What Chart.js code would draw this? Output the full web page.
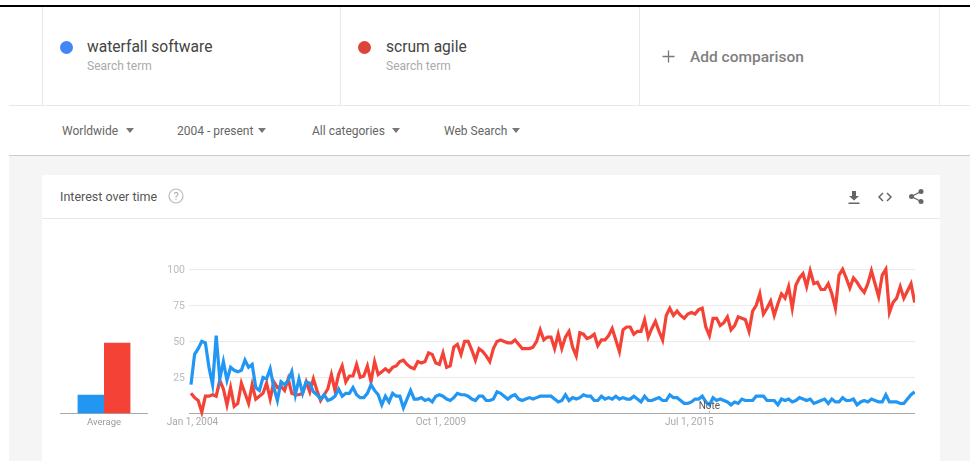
<!DOCTYPE html>
<html>
<head>
<meta charset="utf-8">
<title>Interest over time</title>
<script src="https://cdn.jsdelivr.net/npm/chart.js@4"></script>
<style>
  html, body { margin: 0; padding: 0; background: #fff; }
  body { width: 970px; height: 461px; overflow: hidden; position: relative; font-family: Roboto, sans-serif; filter: blur(0.35px); }
  .abs { position: absolute; white-space: nowrap; }
  .box { position: absolute; }
  .dot { position: absolute; width: 13px; height: 13px; border-radius: 50%; }
  .term { font-size: 15.6px; color: #444; line-height: 18px; top: 38px; }
  .sub { font-size: 12px; color: #aaa; line-height: 14px; top: 59px; }
  .filter { font-size: 12px; color: #666; line-height: 16px; top: 123px; }
  .arrow { position: absolute; top: 128px; width: 0; height: 0; border-left: 4.5px solid transparent; border-right: 4.5px solid transparent; border-top: 5px solid #777; }
  canvas { position: absolute; display: block; }
</style>
</head>
<body>
  <div class="box" style="left:0;top:5px;width:970px;height:2px;background:#000"></div>
  <div class="box" style="left:42px;top:7px;width:1px;height:98px;background:#e8e8e8"></div>
  <div class="box" style="left:340px;top:7px;width:1px;height:98px;background:#e8e8e8"></div>
  <div class="box" style="left:639px;top:7px;width:1px;height:98px;background:#e8e8e8"></div>
  <div class="box" style="left:939px;top:7px;width:1px;height:98px;background:#eee"></div>
  <div class="box" style="left:9px;top:105px;width:961px;height:1px;background:#e8e8e8"></div>
  <div class="box" style="left:9px;top:155px;width:961px;height:1px;background:#ccc"></div>
  <div class="box" style="left:9px;top:156px;width:961px;height:305px;background:#f5f5f5"></div>
  <div class="box" style="left:42px;top:175px;width:898px;height:286px;background:#fff"></div>
  <div class="box" style="left:42px;top:218px;width:898px;height:1px;background:#e8e8e8"></div>

  <div class="dot" style="left:60px;top:41px;background:#4285f4"></div>
  <div class="abs term" style="left:87px">waterfall software</div>
  <div class="abs sub" style="left:87px">Search term</div>
  <div class="dot" style="left:358px;top:41px;background:#db4437"></div>
  <div class="abs term" style="left:386px">scrum agile</div>
  <div class="abs sub" style="left:386px">Search term</div>
  <svg class="box" style="left:662px;top:50px" width="13" height="13"><path d="M6.5 0.5v12M0.5 6.5h12" stroke="#777" stroke-width="1.3"/></svg>
  <div class="abs" style="left:690px;top:48px;font-size:15.5px;line-height:18px;color:#808080;font-weight:500">Add comparison</div>

  <div class="abs filter" style="left:62px">Worldwide</div><div class="arrow" style="left:126px"></div>
  <div class="abs filter" style="left:177px">2004 - present</div><div class="arrow" style="left:258px"></div>
  <div class="abs filter" style="left:312px">All categories</div><div class="arrow" style="left:392px"></div>
  <div class="abs filter" style="left:444px">Web Search</div><div class="arrow" style="left:512px"></div>

  <div class="abs" style="left:60px;top:189px;font-size:12.5px;line-height:16px;color:#555">Interest over time</div>
  <svg class="box" style="left:168px;top:188px" width="16" height="16"><circle cx="8" cy="8" r="7" fill="none" stroke="#bbb" stroke-width="1.2"/><text x="8" y="12" text-anchor="middle" font-size="11" fill="#aaa" font-family="Roboto">?</text></svg>
  <svg class="box" style="left:847px;top:190px" width="14" height="15"><path d="M5 1h4v5h3L7 10.500 2 6h3zM1.500 12.500h11v1.500h-11z" fill="#666"/></svg>
  <svg class="box" style="left:877px;top:190px" width="16" height="14" fill="none" stroke="#666" stroke-width="1.500"><path d="M6 3L2 7l4 4M10 3l4 4-4 4"/></svg>
  <svg class="box" style="left:908px;top:188px" width="16" height="17"><path d="M13 3.500L3.500 8.500 13 13.500" fill="none" stroke="#666" stroke-width="1.300"/><circle cx="13" cy="3.500" r="2.500" fill="#666"/><circle cx="3.500" cy="8.500" r="2.500" fill="#666"/><circle cx="13" cy="13.500" r="2.500" fill="#666"/></svg>

  <canvas id="avgChart" style="left:60px;top:259px" width="88" height="176"></canvas>
  <canvas id="trendChart" style="left:160px;top:259px" width="755" height="176"></canvas>

<script>
const termNames = ["waterfall software", "scrum agile"];
const averageValues = [13, 49];
const yTicks = [0, 25, 50, 75, 100];
const xTickMonths = [0, 69, 138];
const xTickLabels = ["Jan 1, 2004", "Oct 1, 2009", "Jul 1, 2015"];
const noteMonth = 144;

// monthly values
const waterfall = [
  20,41,45,50,49,32,20,54,24,36,23,32,30,29,30,37,32,34,18,16,25,24,31,18,9,22,20,23,29,13,
  24,14,22,21,15,13,10,13,9,10,12,17,12,14,14,18,13,11,11,14,20,16,13,6,12,8,14,12,12,4,
  10,16,10,10,11,9,10,8,12,13,12,10,9,11,14,13,13,12,10,9,12,12,9,9,10,15,14,12,10,12,
  13,10,9,10,11,10,11,12,12,12,12,10,8,9,13,9,11,10,11,13,12,12,9,9,12,10,11,10,12,10,
  11,10,10,12,10,8,12,9,9,10,11,9,9,13,11,11,9,7,7,8,10,10,12,8,6,11,9,10,9,8,
  6,8,7,10,9,9,9,12,12,12,9,9,9,6,10,9,10,8,9,11,10,9,10,7,8,9,10,7,10,8,
  8,11,9,9,10,6,8,9,8,10,9,8,8,13,8,8,8,7,7,10,13,15
];
const scrum = [
  14,11,9,1,12,12,13,12,23,17,6,18,5,7,21,14,7,20,10,12,14,21,10,22,18,19,16,24,14,13,
  13,14,22,15,24,16,9,13,17,27,16,27,33,22,26,26,34,25,26,33,22,36,27,29,31,29,32,33,36,37,
  34,32,31,36,35,36,42,41,35,34,42,32,33,46,48,41,50,50,44,37,45,43,40,36,45,50,51,50,49,49,
  51,48,45,45,45,46,50,58,51,53,53,45,55,45,53,57,46,40,56,55,52,53,55,47,51,51,54,59,51,43,
  58,60,60,55,57,57,65,53,59,64,57,51,68,73,68,71,68,66,69,70,69,72,73,60,54,66,66,61,63,67,
  58,61,67,66,65,57,71,75,83,69,73,78,68,76,83,80,88,73,89,94,97,88,99,90,91,86,86,90,83,73,
  96,100,94,87,94,91,87,84,90,99,90,81,96,100,70,77,80,88,80,85,90,77
];

function toPoints(values) {
  return values.map((v, i) => ({ x: i, y: v }));
}

// Google puts a small "Note" flag on the axis
const notePlugin = {
  id: "noteFlag",
  afterDraw(chart) {
    const ctx = chart.ctx;
    const x = chart.scales.x.getPixelForValue(noteMonth);
    const y0 = chart.scales.y.getPixelForValue(0);
    ctx.save();
    ctx.strokeStyle = "#bbb";
    ctx.lineWidth = 1;
    ctx.beginPath();
    ctx.moveTo(x, y0 - 3);
    ctx.lineTo(x, y0);
    ctx.stroke();
    ctx.fillStyle = "#555";
    ctx.font = "10px Roboto";
    ctx.textAlign = "center";
    ctx.textBaseline = "middle";
    ctx.fillText("Note", x, y0 - 7);
    ctx.restore();
  }
};

new Chart(document.getElementById("trendChart"), {
  type: "line",
  data: {
    datasets: [
      { label: termNames[0], data: toPoints(waterfall), borderColor: "#2196f3", borderWidth: 3.2, pointRadius: 0, tension: 0, clip: false },
      { label: termNames[1], data: toPoints(scrum), borderColor: "#f44336", borderWidth: 3.2, pointRadius: 0, tension: 0, clip: false }
    ]
  },
  options: {
    responsive: false,
    animation: false,
    devicePixelRatio: 1,
    layout: { padding: { top: 10, left: 0, right: 0, bottom: 0 } },
    plugins: { legend: { display: false }, tooltip: { enabled: false } },
    scales: {
      x: {
        type: "linear",
        min: -0.55,
        max: 201.1,
        afterBuildTicks: (axis) => { axis.ticks = xTickMonths.map(v => ({ value: v })); },
        afterFit: (axis) => { axis.height = 21.5; },
        grid: { display: false, drawTicks: false },
        border: { display: false },
        ticks: {
          autoSkip: false,
          maxRotation: 0,
          padding: 3,
          labelOffset: 1.5,
          color: "#aaa",
          font: { family: "Roboto", size: 10 },
          callback: (v) => xTickLabels[xTickMonths.indexOf(v)]
        }
      },
      y: {
        min: 0,
        max: 100,
        afterBuildTicks: (axis) => { axis.ticks = yTicks.map(v => ({ value: v })); },
        afterFit: (axis) => { axis.width = 29; },
        border: { display: false },
        grid: {
          drawTicks: false,
          color: (c) => c.tick.value === 0 ? "#aaa" : "#eaeaea"
        },
        ticks: {
          padding: 4,
          labelOffset: 1,
          color: "#bbb",
          font: { family: "Roboto", size: 10.5 },
          callback: (v) => v === 0 ? "" : String(v)
        }
      }
    }
  },
  plugins: [notePlugin]
});

new Chart(document.getElementById("avgChart"), {
  type: "bar",
  data: {
    labels: ["Average"],
    datasets: [
      { label: termNames[0], data: [averageValues[0]], backgroundColor: "#2196f3", categoryPercentage: 0.6, barPercentage: 1 },
      { label: termNames[1], data: [averageValues[1]], backgroundColor: "#f44336", categoryPercentage: 0.6, barPercentage: 1 }
    ]
  },
  options: {
    responsive: false,
    animation: false,
    devicePixelRatio: 1,
    layout: { padding: { top: 10, left: 0, right: 0, bottom: 0 } },
    plugins: { legend: { display: false }, tooltip: { enabled: false } },
    scales: {
      x: {
        afterFit: (axis) => { axis.height = 21.5; },
        grid: { display: false, drawTicks: false },
        border: { color: "#aaa" },
        ticks: { padding: 3, color: "#999", font: { family: "Roboto", size: 9.5 } }
      },
      y: { display: false, min: 0, max: 100 }
    }
  }
});
</script>
</body>
</html>
